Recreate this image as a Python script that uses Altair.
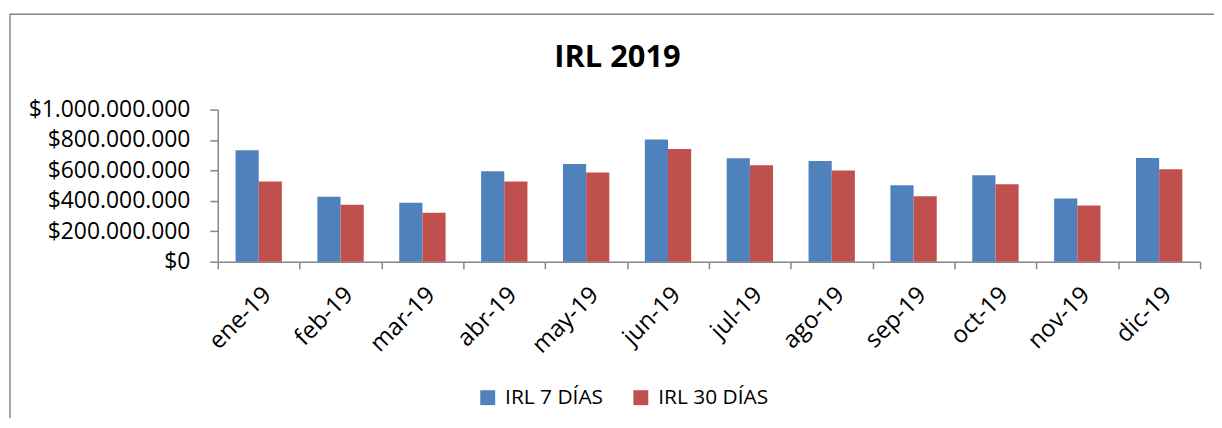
import altair as alt
import pandas as pd

months = ["ene-19", "feb-19", "mar-19", "abr-19", "may-19", "jun-19",
          "jul-19", "ago-19", "sep-19", "oct-19", "nov-19", "dic-19"]
series = ["IRL 7 DÍAS", "IRL 30 DÍAS"]
irl7 = [732, 427, 388, 595, 642, 804, 680, 662, 503, 569, 416, 682]   # millions
irl30 = [527, 375, 322, 527, 586, 741, 634, 599, 431, 510, 370, 608]  # millions
colors = ["#4F81BD", "#C0504D"]
y_ticks = [0, 200e6, 400e6, 600e6, 800e6, 1000e6]
chart_title = "IRL 2019"

rows = []
for m, a, b in zip(months, irl7, irl30):
    rows.append({"mes": m, "serie": series[0], "valor": a * 1e6})
    rows.append({"mes": m, "serie": series[1], "valor": b * 1e6})
df = pd.DataFrame(rows)

FONT = "Open Sans"
GRAY = "#868686"

bars = alt.Chart(df).mark_bar().encode(
    x=alt.X("mes:N", sort=months, title=None,
            scale=alt.Scale(paddingInner=0, paddingOuter=0),
            axis=alt.Axis(labelAngle=-45, labelFont=FONT, labelFontSize=24,
                          labelColor="black", labelPadding=14,
                          tickBand="extent", tickSize=7, tickColor=GRAY,
                          tickWidth=1.5, domainColor=GRAY, domainWidth=1.5)),
    xOffset=alt.XOffset("serie:N", sort=series,
                        scale=alt.Scale(paddingInner=0, paddingOuter=0.767)),
    y=alt.Y("valor:Q", title=None,
            scale=alt.Scale(domain=[0, 1e9], nice=False),
            axis=alt.Axis(values=y_ticks, grid=False, labelFont=FONT,
                          labelFontSize=23, labelColor="black", labelPadding=20,
                          tickSize=8, tickColor=GRAY, tickWidth=1.5,
                          domainColor=GRAY, domainWidth=1.5,
                          labelExpr="'$' + replace(format(datum.value, ',d'), regexp(',', 'g'), '.')")),
    color=alt.Color("serie:N", sort=series,
                    scale=alt.Scale(domain=series, range=colors),
                    legend=alt.Legend(title=None, orient="none", direction="horizontal",
                                      legendX=261, legendY=279,
                                      symbolType="square", symbolSize=225,
                                      symbolStrokeWidth=0, labelFont=FONT,
                                      labelFontSize=21, labelColor="black",
                                      labelOffset=7, columnPadding=27)),
)

border = alt.Chart(alt.Data(values=[{"k": 1}])).mark_rect(
    fillOpacity=0, stroke=GRAY, strokeWidth=1.5
).encode(
    x=alt.value(-209), x2=alt.value(1400),
    y=alt.value(-96), y2=alt.value(600),
)

title = alt.Chart(alt.Data(values=[{"t": chart_title}])).mark_text(
    font=FONT, fontSize=31, fontWeight="bold", color="black",
    align="center", baseline="alphabetic"
).encode(
    text="t:N", x=alt.value(402), y=alt.value(-43),
)

chart = alt.layer(border, title, bars).properties(
    width=988, height=153,
    autosize=alt.AutoSizeParams(type="none"),
    padding={"left": 211, "top": 101, "right": 14, "bottom": 156},
    background="white",
).configure_view(stroke=None)

chart.save("out.html", embed_options={"renderer": "svg", "actions": False})
